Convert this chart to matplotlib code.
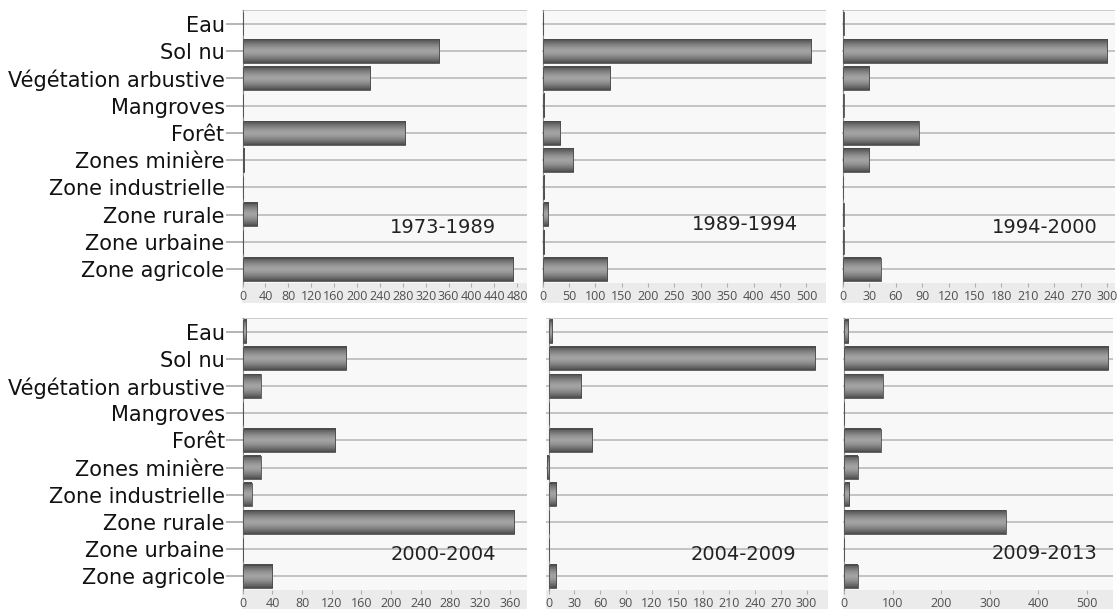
import numpy as np
import matplotlib
matplotlib.use('Agg')
from matplotlib import pyplot as plt
from matplotlib.patches import Rectangle

categories = ['Eau', 'Sol nu', 'Végétation arbustive', 'Mangroves', 'Forêt',
              'Zones minière', 'Zone industrielle', 'Zone rurale',
              'Zone urbaine', 'Zone agricole']

periods = ['1973-1989', '1989-1994', '1994-2000',
           '2000-2004', '2004-2009', '2009-2013']

v_1973_1989 = [0, 343, 223, 0, 284, 3, 0, 26, 0, 473]
v_1989_1994 = [1, 508, 128, 2, 34, 58, 3, 11, 2, 123]
v_1994_2000 = [1, 300, 30, 1, 86, 30, 0, 1, 1, 43]
v_2000_2004 = [5, 139, 24, 1, 124, 24, 12, 366, 1, 40]
v_2004_2009 = [4, 310, 38, 1, 51, -2, 9, 1, 1, 9]
v_2009_2013 = [9, 544, 80, 1, 76, 28, 11, 333, 1, 28]
values = [v_1973_1989, v_1989_1994, v_1994_2000,
          v_2000_2004, v_2004_2009, v_2009_2013]

xticks = [np.arange(0, 481, 40), np.arange(0, 501, 50), np.arange(0, 301, 30),
          np.arange(0, 361, 40), np.arange(0, 301, 30), np.arange(0, 501, 100)]
xlims = [(-1, 497), (-1, 537), (-1, 309), (-1, 383), (-3, 325), (-2, 554)]

# panel boxes in pixels (left, top, right, bottom) of a 1118x609 figure
W, H = 1118, 609
boxes = [(242, 10, 527, 283), (542, 10, 826, 283), (842, 10, 1115, 283),
         (242, 318, 527, 590), (546, 318, 828, 590), (843, 318, 1113, 590)]
text_pos = [(0.705, 0.205), (0.715, 0.215), (0.744, 0.205),
            (0.705, 0.13), (0.70, 0.13), (0.745, 0.135)]

plt.rcParams['font.family'] = ['Open Sans', 'DejaVu Sans']

fig = plt.figure(figsize=(W / 100, H / 100), dpi=100)
fig.patch.set_facecolor('white')

# vertical shading of the bars: dark edges, lighter middle
g = np.abs(np.linspace(-1, 1, 40)) ** 1.5
shade = 0.64 - 0.34 * g
grad = np.dstack([shade, shade, shade]).reshape(-1, 1, 3)

for k, (vals, box) in enumerate(zip(values, boxes)):
    l, t, r, b = box
    # light gray band behind tick labels
    fig.patches.append(Rectangle((l / W, 1 - (b + 20) / H), (r - l) / W, 20 / H,
                                 transform=fig.transFigure, facecolor='#ebebeb',
                                 edgecolor='none', zorder=-5))
    ax = fig.add_axes([l / W, 1 - b / H, (r - l) / W, (b - t) / H])
    ax.set_facecolor('#f8f8f8')
    for s in ['top', 'right', 'bottom']:
        ax.spines[s].set_visible(False)
    ax.spines['left'].set_position(('data', 0))
    ax.spines['left'].set_color('#909090')

    y = np.arange(len(categories))
    ax.hlines(y, xlims[k][0], xlims[k][1], colors='#bfbfbf', linewidth=1.3, zorder=1)
    ax.axhline(-0.5, color='#c8c8c8', linewidth=1.3, zorder=1)
    h = 0.86
    for yi, v in zip(y, vals):
        x0, x1 = min(0, v), max(0, v)
        ax.imshow(grad, aspect='auto', extent=(x0, x1, yi + h / 2, yi - h / 2),
                  zorder=2, interpolation='bilinear')
        ax.add_patch(Rectangle((x0, yi - h / 2), x1 - x0, h, fill=False,
                               edgecolor='#4a4a4a', linewidth=0.6, zorder=3))
    ax.set_xlim(*xlims[k])
    ax.set_ylim(len(categories) - 0.5, -0.5)
    ax.set_xticks(xticks[k])
    ax.set_xticklabels([str(x) for x in xticks[k]])
    ax.tick_params(axis='x', length=3, color='#b0b0b0', pad=2,
                   labelsize=9, labelcolor='#505050')
    ax.set_yticks(y)
    if k % 3 == 0:
        ax.set_yticklabels(categories, family=['DejaVu Sans'])
        ax.tick_params(axis='y', length=12, color='#a8a8a8', width=1.2, pad=1,
                       labelsize=15, labelcolor='#111111')
    else:
        ax.set_yticklabels([])
        ax.tick_params(axis='y', length=0)
    ax.text(text_pos[k][0], text_pos[k][1], periods[k], transform=ax.transAxes,
            ha='center', va='center', fontsize=14, family=['DejaVu Sans'],
            color='#222222', zorder=5)

fig.savefig('out.png', dpi=100, facecolor='white')
